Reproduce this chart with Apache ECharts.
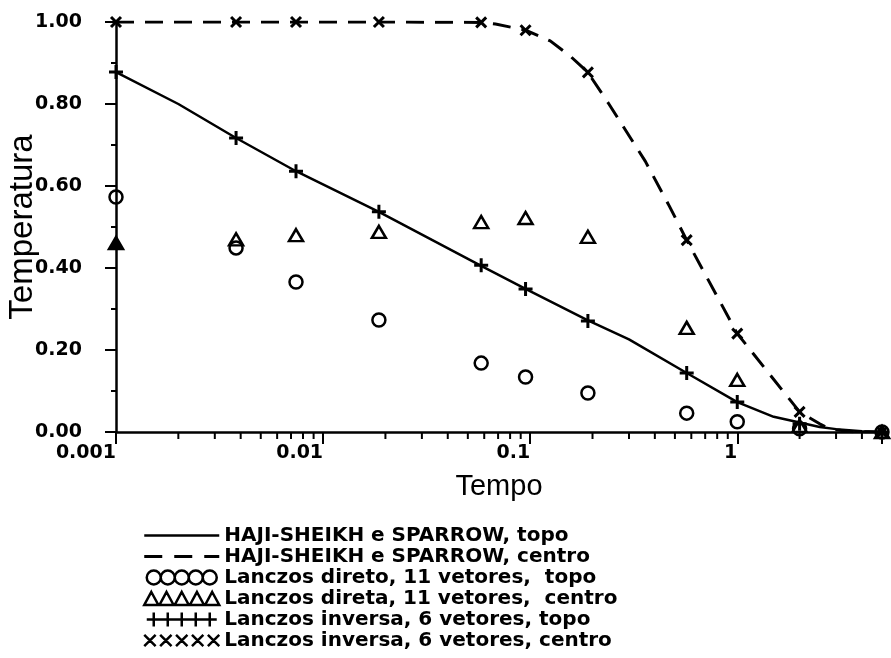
<!DOCTYPE html>
<html>
<head>
<meta charset="utf-8">
<script src="https://cdn.jsdelivr.net/npm/echarts@6/dist/echarts.min.js"></script>
<style>
  html, body { margin: 0; padding: 0; background: #fff; }
  #chart { width: 891px; height: 658px; }
</style>
</head>
<body>
<div id="chart"></div>
<script>
// tempos dos pontos de Lanczos
const tempo = [0.001, 0.0038, 0.0074, 0.0186, 0.058, 0.095, 0.19, 0.57, 1.0, 2.0, 5.0];
const diretoTopo = [0.573, 0.449, 0.366, 0.273, 0.168, 0.134, 0.095, 0.046, 0.025, 0.008, 0.0];
const diretoCentro = [0.461, 0.47, 0.48, 0.488, 0.512, 0.522, 0.476, 0.254, 0.127, 0.015, 0.0];
const inversaTopo = [0.878, 0.717, 0.636, 0.537, 0.407, 0.349, 0.271, 0.144, 0.073, 0.02, 0.0];
const inversaCentro = [1.0, 1.0, 1.0, 1.0, 0.999, 0.98, 0.877, 0.468, 0.24, 0.049, 0.0];

// solucao analitica (HAJI-SHEIKH e SPARROW)
const tempoTopo = [0.001, 0.002, 0.0038, 0.0074, 0.0186, 0.058, 0.095, 0.19, 0.3, 0.57, 1.0, 1.5, 2.0, 2.5, 3.0, 4.0, 5.0];
const analTopo = [0.878, 0.8, 0.717, 0.636, 0.537, 0.405, 0.349, 0.272, 0.226, 0.144, 0.073, 0.037, 0.023, 0.012, 0.007, 0.002, 0.0];
const tempoCentro = [0.001, 0.0038, 0.0074, 0.0186, 0.058, 0.068, 0.095, 0.125, 0.156, 0.19, 0.24, 0.36, 0.47, 0.57, 1.0, 2.0, 2.5, 2.8, 3.5, 5.0];
const analCentro = [1.0, 1.0, 1.0, 1.0, 0.999, 0.995, 0.98, 0.954, 0.917, 0.877, 0.8, 0.66, 0.551, 0.468, 0.24, 0.049, 0.02, 0.007, 0.001, 0.0];

// eixos
const xTickValues = [0.001, 0.01, 0.1, 1];
const xTickLabels = ['0.001', '0.01', '0.1', '1'];
const xMinorTicks = [0.002, 0.003, 0.004, 0.005, 0.006, 0.007, 0.008, 0.009,
  0.02, 0.03, 0.04, 0.05, 0.06, 0.07, 0.08, 0.09,
  0.2, 0.3, 0.4, 0.5, 0.6, 0.7, 0.8, 0.9, 2, 3, 4];

const legendNames = [
  'HAJI-SHEIKH e SPARROW, topo',
  'HAJI-SHEIKH e SPARROW, centro',
  'Lanczos direto, 11 vetores,  topo',
  'Lanczos direta, 11 vetores,  centro',
  'Lanczos inversa, 6 vetores, topo',
  'Lanczos inversa, 6 vetores, centro'
];

const zip = (xs, ys) => xs.map((x, i) => [x, ys[i]]);

// icones da legenda: cinco simbolos em fila
let circles = '', triangles = '', pluses = 'M0,7L70,7', crosses = '';
for (let k = 0; k < 5; k++) {
  const o = 14 * k;
  circles += `M${o},7a7,7 0 1,0 14,0a7,7 0 1,0 -14,0`;
  triangles += `M${o + 7},1L${o + 13.5},13L${o + 0.5},13Z`;
  pluses += `M${o + 7},0L${o + 7},14`;
  crosses += `M${o + 2},3L${o + 12},13M${o + 12},3L${o + 2},13`;
}
const solidIcon = 'path://M0,0L75,0L75,2.5L0,2.5Z';
const dashIcon = 'path://M0,0L18,0L18,3L0,3ZM30,0L48,0L48,3L30,3ZM60,0L75,0L75,3L60,3Z';

const hollow = { color: 'rgba(0,0,0,0)', borderColor: '#000', borderWidth: 2.5, opacity: 1 };
const strokeOnly = { color: 'rgba(0,0,0,0)', borderColor: '#000', borderWidth: 3, opacity: 1 };
const blackIcon = { color: '#000', borderWidth: 0, opacity: 1 };
const font = 'DejaVu Sans';

// o primeiro triangulo aparece cheio no original
const trianglePts = zip(tempo, diretoCentro).map((p, i) =>
  i === 0 ? { value: p, itemStyle: { color: '#000' } } : p);

const chart = echarts.init(document.getElementById('chart'));
chart.setOption({
  animation: false,
  backgroundColor: '#fff',
  grid: { left: 116, right: 9, top: 22, bottom: 226, containLabel: false, outerBoundsMode: 'none' },
  legend: {
    orient: 'vertical',
    left: 143,
    top: 525,
    padding: 0,
    itemWidth: 75,
    itemHeight: 14,
    itemGap: 0,
    textStyle: { fontFamily: font, fontSize: 20, fontWeight: 'bold', lineHeight: 21, color: '#000' },
    itemStyle: { borderWidth: 2.5, opacity: 1 },
    data: [
      { name: legendNames[0], icon: solidIcon, itemStyle: blackIcon },
      { name: legendNames[1], icon: dashIcon, itemStyle: blackIcon },
      { name: legendNames[2], icon: 'path://' + circles },
      { name: legendNames[3], icon: 'path://' + triangles },
      { name: legendNames[4], icon: 'path://' + pluses },
      { name: legendNames[5], icon: 'path://' + crosses }
    ]
  },
  xAxis: {
    type: 'log',
    logBase: 10,
    min: 0.001,
    max: 5,
    name: 'Tempo',
    nameLocation: 'middle',
    nameGap: 40,
    nameMoveOverlap: false,
    nameTextStyle: { fontFamily: 'Liberation Sans', fontSize: 29, color: '#000' },
    axisLine: { lineStyle: { color: '#000', width: 2.5 } },
    axisTick: { length: 12, lineStyle: { color: '#000', width: 2 } },
    splitLine: { show: false },
    axisLabel: {
      fontFamily: font, fontSize: 19, fontWeight: 'bold', color: '#000', margin: 12,
      align: 'right',
      formatter: v => {
        const i = xTickValues.findIndex(t => Math.abs(Math.log10(t) - Math.log10(v)) < 1e-6);
        return i < 0 ? '' : xTickLabels[i];
      }
    }
  },
  yAxis: {
    type: 'value',
    min: 0,
    max: 1,
    interval: 0.2,
    name: 'Temperatura',
    nameLocation: 'middle',
    nameGap: 77,
    nameMoveOverlap: false,
    nameTextStyle: { fontFamily: 'Liberation Sans', fontSize: 33, color: '#000' },
    axisLine: { show: true, lineStyle: { color: '#000', width: 2.5 } },
    axisTick: { show: true, length: 11, lineStyle: { color: '#000', width: 2 } },
    minorTick: { show: true, splitNumber: 2, length: 5, lineStyle: { color: '#000', width: 2 } },
    splitLine: { show: false },
    axisLabel: { fontFamily: font, fontSize: 19, fontWeight: 'bold', color: '#000', margin: 34, formatter: v => v.toFixed(2) }
  },
  series: [
    {
      name: legendNames[0], type: 'line', data: zip(tempoTopo, analTopo),
      symbol: 'none', color: '#000',
      lineStyle: { color: '#000', width: 2.5 }
    },
    {
      name: legendNames[1], type: 'line', data: zip(tempoCentro, analCentro),
      symbol: 'none', color: '#000',
      lineStyle: { color: '#000', width: 3, type: [18, 11] }
    },
    {
      name: legendNames[2], type: 'scatter', data: zip(tempo, diretoTopo),
      symbol: 'circle', symbolSize: 13, itemStyle: hollow
    },
    {
      name: legendNames[3], type: 'scatter', data: trianglePts,
      symbol: 'triangle', symbolSize: [14, 12], itemStyle: hollow
    },
    {
      name: legendNames[4], type: 'scatter', data: zip(tempo, inversaTopo),
      symbol: 'path://M0,-1L0,1M-1,0L1,0', symbolSize: 14, itemStyle: strokeOnly
    },
    {
      name: legendNames[5], type: 'scatter', data: zip(tempo, inversaCentro),
      symbol: 'path://M-1,-1L1,1M1,-1L-1,1', symbolSize: 10, itemStyle: strokeOnly
    },
    {
      // marcas menores do eixo logaritmico
      type: 'custom', silent: true, clip: false,
      data: xMinorTicks.map(v => [v, 0]),
      renderItem: (params, api) => {
        const p = api.coord([api.value(0), 0]);
        return {
          type: 'line',
          shape: { x1: p[0], y1: p[1], x2: p[0], y2: p[1] + 7 },
          style: { stroke: '#000', lineWidth: 2 }
        };
      }
    }
  ]
});
</script>
</body>
</html>
